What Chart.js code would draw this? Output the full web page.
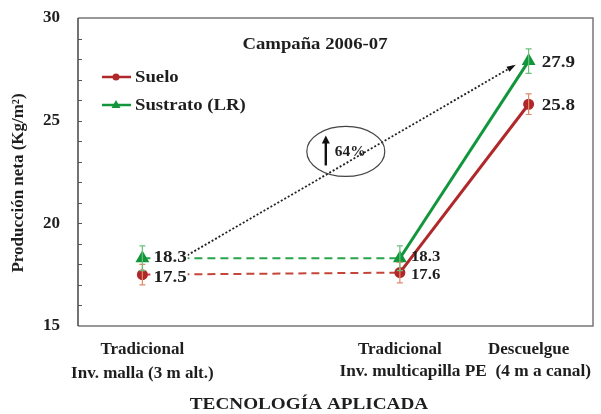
<!DOCTYPE html>
<html>
<head>
<meta charset="utf-8">
<script src="https://cdn.jsdelivr.net/npm/chart.js@4/dist/chart.umd.min.js"></script>
<style>
  html, body { margin: 0; padding: 0; background: #fff; }
  #wrap { width: 601px; height: 414px; }
</style>
</head>
<body>
<div id="wrap"><canvas id="c" width="601" height="414"></canvas></div>
<script>
// Positions of the three technologies along the horizontal axis
const techPositions = [0.5, 2.5, 3.5];
const techLine1 = ['Tradicional', 'Tradicional', 'Descuelgue'];
const techLine2 = ['Inv. malla (3 m alt.)', '', ''];
// second line shared by the two PE-greenhouse technologies
const sharedLine2 = 'Inv. multicapilla PE  (4 m a canal)';

// Net production (Kg/m²) and its error
const sueloValues = [17.5, 17.6, 25.8];
const sueloErrors = [0.5, 0.5, 0.5];
const sustratoValues = [18.3, 18.3, 27.9];
const sustratoErrors = [0.6, 0.6, 0.6];

const yTicks = [15, 20, 25, 30];

// Dotted increase arrow (data units) and the 64% marker
const arrowFrom = [0.85, 18.45];
const arrowTo = [3.38, 27.65];
const increaseCenter = [2.08, 23.5];
const increaseText = '64%';

const xTitle = 'TECNOLOGÍA APLICADA';
const yTitle = 'Producción neta (Kg/m²)';

const RED = '#b0282a';
const RED_LIGHT = '#c4463a';
const GREEN = '#12963c';
const GREEN_LIGHT = '#2aa44c';
const SERIF = '"Liberation Serif", "Times New Roman", serif';
const INK = '#1e1e1e';

function pts(values) {
  return values.map((v, i) => ({ x: techPositions[i], y: v }));
}
const dashFirst = ctx => ctx.p0DataIndex === 0 ? [8, 5] : undefined;

// bold serif text, slightly widened
function wideText(ctx, text, x, y, size, align, sx, rot) {
  ctx.save();
  ctx.font = 'bold ' + size + 'px ' + SERIF;
  ctx.textBaseline = 'middle';
  ctx.textAlign = align;
  ctx.translate(x, y);
  if (rot) ctx.rotate(rot);
  ctx.scale(sx, 1);
  ctx.fillText(text, 0, 0);
  const w = ctx.measureText(text).width * sx;
  ctx.restore();
  return w;
}

const overlay = {
  id: 'overlay',
  beforeDatasetsDraw(chart) {
    // plot frame: grey top/right/bottom, dark left axis
    const { ctx, chartArea: a } = chart;
    ctx.save();
    ctx.lineWidth = 1.5;
    ctx.strokeStyle = '#777';
    ctx.beginPath();
    ctx.moveTo(a.left, a.top); ctx.lineTo(a.right, a.top);
    ctx.lineTo(a.right, a.bottom); ctx.lineTo(a.left, a.bottom);
    ctx.stroke();
    ctx.strokeStyle = '#444';
    ctx.beginPath(); ctx.moveTo(a.left, a.top); ctx.lineTo(a.left, a.bottom); ctx.stroke();
    ctx.restore();
  },
  afterDatasetsDraw(chart) {
    const { ctx, scales: { x, y }, chartArea: a } = chart;
    ctx.save();

    // inner minor ticks on the value axis
    ctx.strokeStyle = '#555';
    ctx.lineWidth = 1;
    for (let v = 16; v < 30; v++) {
      const py = Math.round(y.getPixelForValue(v)) + 0.5;
      ctx.beginPath(); ctx.moveTo(a.left, py); ctx.lineTo(a.left + 4, py); ctx.stroke();
    }

    // error bars
    const errSets = [[sueloValues, sueloErrors, '#e08a6a'], [sustratoValues, sustratoErrors, '#6cbf7c']];
    errSets.forEach(([vals, errs, col]) => {
      ctx.strokeStyle = col; ctx.lineWidth = 1.2;
      vals.forEach((v, i) => {
        const px = x.getPixelForValue(techPositions[i]);
        const top = y.getPixelForValue(v + errs[i]);
        const bot = y.getPixelForValue(v - errs[i]);
        ctx.beginPath();
        ctx.moveTo(px, top); ctx.lineTo(px, bot);
        ctx.moveTo(px - 3, top); ctx.lineTo(px + 3, top);
        ctx.moveTo(px - 3, bot); ctx.lineTo(px + 3, bot);
        ctx.stroke();
      });
    });

    // dotted increase arrow
    const x0 = x.getPixelForValue(arrowFrom[0]), y0 = y.getPixelForValue(arrowFrom[1]);
    const x1 = x.getPixelForValue(arrowTo[0]), y1 = y.getPixelForValue(arrowTo[1]);
    ctx.strokeStyle = '#222'; ctx.lineWidth = 1.8; ctx.setLineDash([2, 2]);
    ctx.beginPath(); ctx.moveTo(x0, y0); ctx.lineTo(x1, y1); ctx.stroke();
    ctx.setLineDash([]);
    const ang = Math.atan2(y1 - y0, x1 - x0);
    ctx.fillStyle = '#111';
    ctx.beginPath();
    ctx.moveTo(x1 + 3 * Math.cos(ang), y1 + 3 * Math.sin(ang));
    ctx.lineTo(x1 - 6 * Math.cos(ang) - 3 * Math.sin(ang), y1 - 6 * Math.sin(ang) + 3 * Math.cos(ang));
    ctx.lineTo(x1 - 6 * Math.cos(ang) + 3 * Math.sin(ang), y1 - 6 * Math.sin(ang) - 3 * Math.cos(ang));
    ctx.closePath(); ctx.fill();

    // ellipse with up-arrow and percentage
    const cx = x.getPixelForValue(increaseCenter[0]), cy = y.getPixelForValue(increaseCenter[1]);
    ctx.strokeStyle = '#444'; ctx.lineWidth = 1.2;
    ctx.beginPath(); ctx.ellipse(cx, cy, 39, 25, 0, 0, Math.PI * 2); ctx.stroke();
    ctx.strokeStyle = '#111'; ctx.lineWidth = 2.4;
    ctx.beginPath(); ctx.moveTo(cx - 20, cy + 14); ctx.lineTo(cx - 20, cy - 10); ctx.stroke();
    ctx.fillStyle = '#111';
    ctx.beginPath(); ctx.moveTo(cx - 20, cy - 16); ctx.lineTo(cx - 24, cy - 8); ctx.lineTo(cx - 16, cy - 8); ctx.closePath(); ctx.fill();
    ctx.fillStyle = INK;
    wideText(ctx, increaseText, cx - 11, cy + 1, 14, 'left', 1.1);

    // value labels
    const labelSets = [[sustratoValues, -2], [sueloValues, 2]];
    labelSets.forEach(([vals, dy]) => {
      vals.forEach((v, i) => {
        const px = x.getPixelForValue(techPositions[i]) + (i === 2 ? 12 : 10);
        const py = y.getPixelForValue(v) + (i === 2 ? 0 : dy);
        const t = v.toFixed(1);
        const size = i === 1 ? 15 : 17;
        ctx.font = 'bold ' + size + 'px ' + SERIF;
        const w = ctx.measureText(t).width * 1.12;
        if (i !== 1) {
          ctx.fillStyle = '#fff';
          ctx.fillRect(px, py - 8, w + 2, 15);
        }
        ctx.fillStyle = INK;
        wideText(ctx, t, px + 1, py + 1, size, 'left', 1.12);
      });
    });

    // title
    ctx.fillStyle = INK;
    wideText(ctx, 'Campaña 2006-07', 315, 45, 16, 'center', 1.17);

    // legend
    const legend = [['Suelo', RED, 'circle', 77], ['Sustrato (LR)', GREEN, 'triangle', 105]];
    legend.forEach(([name, col, style, ly]) => {
      ctx.strokeStyle = col; ctx.lineWidth = 2.5;
      ctx.beginPath(); ctx.moveTo(102, ly); ctx.lineTo(131, ly); ctx.stroke();
      ctx.fillStyle = col;
      ctx.beginPath();
      if (style === 'circle') ctx.arc(116, ly, 3.5, 0, Math.PI * 2);
      else { ctx.moveTo(116, ly - 5); ctx.lineTo(120.5, ly + 3); ctx.lineTo(111.5, ly + 3); ctx.closePath(); }
      ctx.fill();
      ctx.fillStyle = INK;
      wideText(ctx, name, 135, ly + 1, 16, 'left', 1.17);
    });

    ctx.restore();
  },
  afterDraw(chart) {
    const { ctx, scales: { x } } = chart;
    ctx.save();
    ctx.fillStyle = INK;
    // second category line spanning the two PE-greenhouse technologies
    const cx = (x.getPixelForValue(techPositions[1]) + x.getPixelForValue(techPositions[2])) / 2 + 1;
    wideText(ctx, sharedLine2, cx, 372, 16, 'center', 1.08);
    // axis titles
    wideText(ctx, xTitle, 309, 405, 16, 'center', 1.2);
    wideText(ctx, yTitle, 19, 183, 16, 'center', 1.06, -Math.PI / 2);
    ctx.restore();
  }
};

new Chart(document.getElementById('c'), {
  type: 'line',
  data: {
    datasets: [
      {
        label: 'Sustrato (LR)',
        data: pts(sustratoValues),
        borderColor: GREEN,
        backgroundColor: GREEN,
        borderWidth: 3,
        pointStyle: 'triangle',
        pointRadius: 5,
        segment: {
          borderDash: dashFirst,
          borderWidth: ctx => ctx.p0DataIndex === 0 ? 2 : 3,
          borderColor: ctx => ctx.p0DataIndex === 0 ? GREEN_LIGHT : GREEN
        }
      },
      {
        label: 'Suelo',
        data: pts(sueloValues),
        borderColor: RED,
        backgroundColor: RED,
        borderWidth: 3,
        pointStyle: 'circle',
        pointRadius: 4,
        segment: {
          borderDash: dashFirst,
          borderWidth: ctx => ctx.p0DataIndex === 0 ? 2 : 3,
          borderColor: ctx => ctx.p0DataIndex === 0 ? RED_LIGHT : RED
        }
      }
    ]
  },
  options: {
    responsive: false,
    animation: false,
    layout: { padding: { top: 18, right: 3, left: 0, bottom: 0 } },
    plugins: { legend: { display: false }, tooltip: { enabled: false } },
    scales: {
      x: {
        type: 'linear',
        min: 0, max: 4,
        afterBuildTicks: s => { s.ticks = techPositions.map(v => ({ value: v })); },
        afterFit: s => { s.height = 88; s.paddingLeft = 0; s.paddingRight = 0; s.paddingTop = 0; s.paddingBottom = 0; },
        ticks: {
          autoSkip: false,
          maxRotation: 0,
          padding: 12,
          color: INK,
          font: { family: SERIF, size: 17, weight: 'bold', lineHeight: 1.4 },
          callback: (v, i) => [techLine1[i], techLine2[i]]
        },
        grid: { display: false, drawTicks: false },
        border: { display: false }
      },
      y: {
        min: 15, max: 30,
        afterBuildTicks: s => { s.ticks = yTicks.map(v => ({ value: v })); },
        afterFit: s => { s.width = 78; s.paddingTop = 0; s.paddingBottom = 0; s.paddingLeft = 0; s.paddingRight = 0; },
        ticks: {
          padding: 18,
          color: INK,
          font: { family: SERIF, size: 17, weight: 'bold' }
        },
        grid: { display: false, drawTicks: false },
        border: { display: false }
      }
    }
  },
  plugins: [overlay]
});
</script>
</body>
</html>
